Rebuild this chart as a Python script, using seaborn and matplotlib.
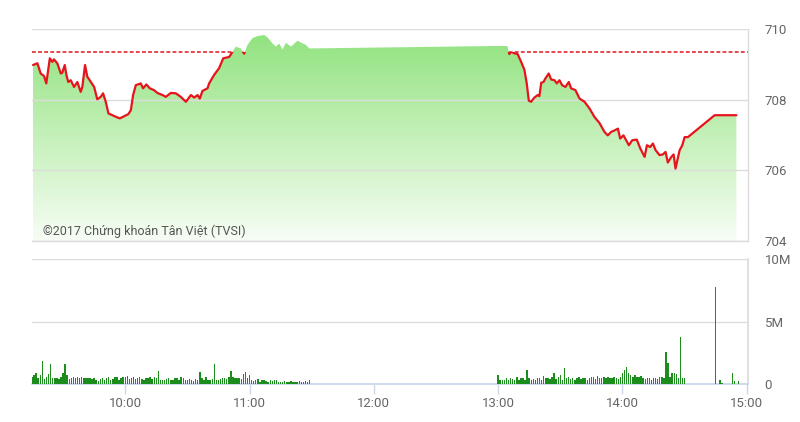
import numpy as np
import pandas as pd
import matplotlib
matplotlib.use("Agg")
import matplotlib.pyplot as plt
from matplotlib.colors import LinearSegmentedColormap
from matplotlib.patches import Rectangle
import seaborn as sns

# price (minutes after 9:00, index value)
price_minutes = [
    15.5, 17.6, 19.2, 20.8, 21.9, 23.6, 24.8, 25.6, 27.2, 28.9, 29.6, 30.8, 31.6, 32.5,
    33.7, 35.3, 36.9, 38.5, 39.3, 40.6, 41.7, 43.4, 45.0, 46.5, 48.2, 49.3, 50.6, 51.9,
    53.8, 55.7, 57.4, 59.4, 61.5, 62.7, 63.8, 65.1, 67.5, 68.6, 70.2, 71.9, 73.9, 75.5,
    78.0, 79.6, 82.0, 84.4, 86.8, 89.3, 91.7, 93.3, 94.9, 96.0, 97.3, 99.7, 100.5, 102.9,
    105.3, 107.3, 110.2, 111.8, 113.4, 115.8, 117.4, 119.0, 121.4, 123.8, 127.1, 128.7,
    131.1, 132.7, 134.3, 135.9, 137.6, 140.0, 143.2, 145.6, 147.2, 148.8, 150.0,
    240.0, 244.5, 245.4, 246.3, 247.9, 249.4, 251.1, 252.7, 253.8, 254.8, 255.9, 257.5,
    259.1, 259.9, 260.8, 261.9, 262.8, 264.4, 265.6, 267.2, 268.3, 269.6, 270.9, 272.5,
    274.1, 275.2, 277.3, 279.3, 281.7, 284.1, 286.5, 288.9, 291.3, 292.9, 294.6, 296.2,
    297.8, 298.9, 300.5, 303.1, 304.7, 306.9, 308.6, 310.7, 311.8, 313.4, 314.7, 316.0,
    317.9, 319.5, 320.8, 321.9, 323.6, 324.7, 325.6, 327.6, 328.9, 330.0, 331.6, 344.5,
    355.0,
]
price_values = [
    708.98, 709.03, 708.74, 708.67, 708.46, 709.17, 709.07, 709.14, 709.03, 708.74, 708.76,
    708.98, 708.70, 708.50, 708.55, 708.36, 708.50, 708.22, 708.36, 708.98, 708.65, 708.50,
    708.36, 708.01, 708.08, 708.18, 707.94, 707.61, 707.56, 707.51, 707.47, 707.53, 707.59,
    707.70, 708.13, 708.41, 708.46, 708.32, 708.43, 708.32, 708.27, 708.19, 708.13, 708.08,
    708.19, 708.18, 708.08, 707.94, 708.13, 708.06, 708.13, 708.03, 708.25, 708.32, 708.46,
    708.70, 708.89, 709.17, 709.21, 709.36, 709.50, 709.45, 709.30, 709.55, 709.74, 709.80,
    709.83, 709.76, 709.59, 709.50, 709.59, 709.42, 709.61, 709.50, 709.67, 709.59, 709.55,
    709.45, 709.45,
    709.52, 709.52, 709.29, 709.36, 709.31, 709.29, 709.07, 708.84, 708.46, 707.97, 707.94,
    708.06, 708.13, 708.10, 708.48, 708.50, 708.60, 708.74, 708.57, 708.55, 708.46, 708.55,
    708.41, 708.36, 708.50, 708.32, 708.27, 708.03, 707.94, 707.75, 707.51, 707.34, 707.09,
    706.99, 707.09, 707.13, 707.18, 706.90, 706.99, 706.71, 706.85, 706.87, 706.62, 706.38,
    706.71, 706.66, 706.76, 706.57, 706.43, 706.45, 706.52, 706.22, 706.38, 706.45, 706.05,
    706.57, 706.71, 706.94, 706.94, 707.56, 707.56,
]
ref_price = 709.36

# volume per minute, millions
vol_am_start = 15
vol_am = [
    0.6, 0.75, 0.9, 0.5, 0.7, 1.85, 0.4, 0.6, 0.8, 1.6, 0.5, 0.45, 0.5, 0.4, 0.55, 0.9,
    1.6, 0.7, 0.4, 0.5, 0.6, 0.5, 0.6, 0.45, 0.55, 0.5, 0.5, 0.45, 0.5, 0.4, 0.45, 0.3,
    0.25, 0.4, 0.45, 0.35, 0.5, 0.55, 0.3, 0.4, 0.55, 0.6, 0.35, 0.5, 0.55, 0.6, 0.65, 0.4,
    0.45, 0.6, 0.4, 0.45, 0.55, 0.4, 0.35, 0.45, 0.5, 0.55, 0.4, 0.6, 0.45, 1.05, 0.3, 0.35,
    0.35, 0.4, 0.45, 0.3, 0.35, 0.5, 0.45, 0.3, 0.55, 0.45, 0.35, 0.3, 0.4, 0.3, 0.25, 0.4,
    0.35, 1.0, 0.45, 0.3, 0.55, 0.35, 0.3, 0.4, 1.6, 0.35, 0.3, 0.4, 0.45, 0.5, 0.4, 0.55,
    1.05, 0.6, 0.5, 0.45, 0.5, 0.4, 0.8, 1.0, 0.45, 0.75, 0.3, 0.25, 0.35, 0.4, 0.2, 0.3,
    0.35, 0.25, 0.2, 0.3, 0.25, 0.3, 0.35, 0.2, 0.15, 0.2, 0.25, 0.2, 0.15, 0.25, 0.2, 0.15,
    0.2, 0.25, 0.15, 0.2, 0.25, 0.2, 0.3,
]
vol_pm_start = 240
vol_pm = [
    0.7, 0.35, 0.3, 0.35, 0.45, 0.3, 0.5, 0.4, 0.35, 0.6, 0.3, 0.45, 0.5, 0.3, 1.15, 0.5,
    0.35, 0.4, 0.3, 0.45, 0.5, 0.35, 0.65, 0.5, 0.45, 0.4, 0.55, 0.9, 0.4, 0.6, 0.7, 0.35,
    1.25, 0.45, 0.55, 0.4, 0.5, 0.35, 0.45, 0.55, 0.4, 0.5, 0.45, 0.35, 0.5, 0.6, 0.55, 0.4,
    0.65, 0.5, 0.45, 0.6, 0.5, 0.55, 0.45, 0.5, 0.6, 0.45, 0.4, 0.55, 0.85, 1.1, 1.35, 0.9,
    0.75, 0.6, 0.7, 0.55, 0.6, 0.65, 0.45, 0.4, 0.45, 0.5, 0.35, 0.45, 0.5, 0.4, 0.6, 0.55,
    0.5, 2.6, 1.65, 0.6, 0.9, 0.85, 0.8, 0.5, 3.75, 0.45, 0.5,
]
vol_close_minutes = [345, 347, 348, 353, 354, 356]
vol_close = [7.8, 0.3, 0.1, 0.85, 0.25, 0.25]

tick_minutes = [60, 120, 180, 240, 300, 360]
tick_labels = ["10:00", "11:00", "12:00", "13:00", "14:00", "15:00"]
price_ticks = [704, 706, 708, 710]
vol_ticks = [0, 5, 10]
vol_tick_labels = ["0", "5M", "10M"]

df = pd.DataFrame({"minute": price_minutes, "price": price_values})
vol = pd.concat([
    pd.DataFrame({"minute": np.arange(len(vol_am)) + vol_am_start, "volume": vol_am}),
    pd.DataFrame({"minute": np.arange(len(vol_pm)) + vol_pm_start, "volume": vol_pm}),
    pd.DataFrame({"minute": vol_close_minutes, "volume": vol_close}),
])

sns.set_theme(style="white")
plt.rcParams["font.family"] = ["Roboto", "DejaVu Sans"]

fig = plt.figure(figsize=(8, 4.22), dpi=100)
ax = fig.add_axes([0.04, 0.4289, 0.895, 0.5024])
axv = fig.add_axes([0.04, 0.0900, 0.895, 0.2962])

xlim = (15, 360.6)
ylim = (704, 710)
grid_c = "#dcdcdc"
label_c = "#666666"

# --- price panel
ax.set_xlim(*xlim)
ax.set_ylim(*ylim)
ax.axhline(ref_price, color="#e0141b", lw=1.1, ls=(0, (2.5, 1.5)), zorder=0.5)

poly = ax.fill_between(df["minute"], df["price"], ylim[0], color="none", lw=0)
cmap = LinearSegmentedColormap.from_list("g", ["#f7fdf5", "#c4f0b8", "#8ee27c"])
grad = np.linspace(0, 1, 256)[:, None]
im = ax.imshow(grad, cmap=cmap, origin="lower", aspect="auto",
               extent=[xlim[0], xlim[1], ylim[0], ylim[1]], zorder=1)
im.set_clip_path(poly.get_paths()[0], ax.transData)

sns.lineplot(data=df, x="minute", y="price", ax=ax, color="#e8141c", lw=1.6,
             sort=False, estimator=None, zorder=3)
red = ax.lines[-1]
red.set_clip_path(Rectangle((xlim[0], ylim[0]), xlim[1] - xlim[0], ref_price - ylim[0],
                            transform=ax.transData))

ax.set_yticks(price_ticks)
ax.yaxis.tick_right()
ax.tick_params(axis="y", length=0, pad=12, labelsize=9.5, labelcolor=label_c)
ax.set_xticks([])
ax.set_xlabel("")
ax.set_ylabel("")
ax.yaxis.grid(True, color=grid_c, lw=1)
ax.set_axisbelow(False)
for s in ["left", "top"]:
    ax.spines[s].set_visible(False)
ax.spines["right"].set_color(grid_c)
ax.spines["bottom"].set_color(grid_c)
ax.spines["right"].set_linewidth(1)
ax.spines["bottom"].set_linewidth(1)
ax.text(0.0154, 0.047, "©2017 Chứng khoán Tân Việt (TVSI)", transform=ax.transAxes,
        ha="left", va="center", fontsize=9, color="#555555", zorder=4)

# --- volume panel
axv.bar(vol["minute"], vol["volume"], width=0.7, color="#1c8c1c", lw=0,
        antialiased=False, zorder=3)
axv.set_xlim(*xlim)
axv.set_ylim(0, 10)
axv.set_yticks(vol_ticks)
axv.set_yticklabels(vol_tick_labels)
axv.yaxis.tick_right()
axv.tick_params(axis="y", length=0, pad=12, labelsize=9.5, labelcolor=label_c)
axv.set_xticks(tick_minutes)
axv.set_xticklabels(tick_labels)
axv.tick_params(axis="x", bottom=True, length=7, width=1, color="#ccd6eb", pad=2,
                labelsize=9.5, labelcolor=label_c)
axv.yaxis.grid(True, color=grid_c, lw=1)
for s in ["left", "top"]:
    axv.spines[s].set_visible(False)
axv.spines["right"].set_color(grid_c)
axv.spines["bottom"].set_color("#ccd6eb")

fig.savefig("out.png", dpi=100, facecolor="white")
